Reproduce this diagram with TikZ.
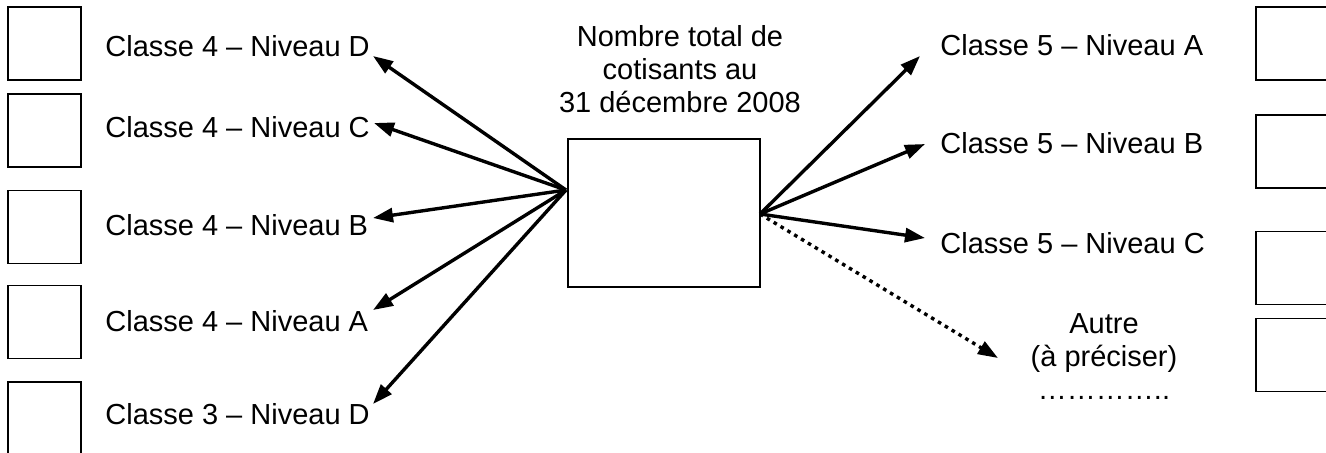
\documentclass[tikz,border=0pt]{standalone}
\usepackage{fontspec}
\setmainfont{Liberation Sans}
\usetikzlibrary{arrows.meta}

\begin{document}
\begin{tikzpicture}[
	x = 0.5pt, y = -0.5pt,
	every node/.style = {font = \fontsize{14.5}{16.5}\selectfont, inner sep = 0pt},
	casebox/.style = {draw, line width = 0.7pt, minimum width = 36.5pt, minimum height = 36.5pt},
	classe/.style = {anchor = base west},
	fleche/.style = {line width = 1.7pt, -{Triangle[length = 10pt, width = 7pt]}},
	fleche autre/.style = {fleche, dash pattern = on 1.8pt off 2.2pt}
	]
	\clip (0,0) rectangle (1326,452);
	
	% total au centre
	\node [align = center, anchor = north] (titre) at (680,25) {Nombre total de\\cotisants au\\31 d\'ecembre 2008};
	\node [casebox, minimum width = 96pt, minimum height = 74pt] (total) at (664,213) {};
	\coordinate (depG) at (566,190);
	\coordinate (depD) at (760,214);
	
	% classe 4 et classe 3, a gauche
	\node [casebox] (caseG1) at (44.5,43.5) {};
	\node [casebox] (caseG2) at (44.5,130.5) {};
	\node [casebox] (caseG3) at (44.5,227) {};
	\node [casebox] (caseG4) at (44.5,322) {};
	\node [casebox] (caseG5) at (44.5,418.5) {};
	\node [classe] (c4D) at (105,56) {Classe 4 – Niveau D};
	\node [classe] (c4C) at (105,137) {Classe 4 – Niveau C};
	\node [classe] (c4B) at (105,235) {Classe 4 – Niveau B};
	\node [classe] (c4A) at (105,331) {Classe 4 – Niveau A};
	\node [classe] (c3D) at (105,424) {Classe 3 – Niveau D};
	\coordinate (p4D) at (373,56);
	\coordinate (p4C) at (374,123);
	\coordinate (p4B) at (373,218);
	\coordinate (p4A) at (373,310);
	\coordinate (p3D) at (373,404);
	\foreach \c in {p4D,p4C,p4B,p4A,p3D}
		\draw [fleche] (depG) -- (\c);
	
	% classe 5 et autre, a droite
	\node [casebox] (caseD1) at (1292.5,43.5) {};
	\node [casebox] (caseD2) at (1292.5,151.5) {};
	\node [casebox] (caseD3) at (1292.5,268) {};
	\node [casebox] (caseD4) at (1292.5,355) {};
	\node [classe] (c5A) at (940,55) {Classe 5 – Niveau A};
	\node [classe] (c5B) at (940,153) {Classe 5 – Niveau B};
	\node [classe] (c5C) at (940,253) {Classe 5 – Niveau C};
	\node [align = center, anchor = north] (autre) at (1104,313) {Autre\\(\`a pr\'eciser)\\…………..};
	\coordinate (p5A) at (920,56);
	\coordinate (p5B) at (925,144);
	\coordinate (p5C) at (925,238);
	\coordinate (pAutre) at (998,358);
	\foreach \c in {p5A,p5B,p5C}
		\draw [fleche] (depD) -- (\c);
	\draw [fleche autre] (depD) -- (pAutre);
\end{tikzpicture}
\end{document}
